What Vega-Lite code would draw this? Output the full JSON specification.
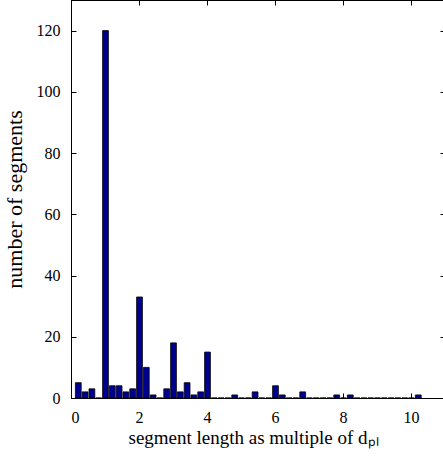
{
  "$schema": "https://vega.github.io/schema/vega-lite/v6.json",
  "width": 374,
  "height": 398,
  "autosize": "none",
  "padding": {"left": 71, "top": 0, "right": 0, "bottom": 61},
  "background": "white",
  "config": {
    "view": {"stroke": "black", "strokeWidth": 1},
    "axis": {
      "grid": false,
      "domainColor": "black",
      "tickColor": "black",
      "labelColor": "black",
      "titleColor": "black",
      "labelFont": "Liberation Serif",
      "titleFont": "Liberation Serif",
      "labelFontSize": 16,
      "titleFontSize": 19,
      "titleFontWeight": "normal",
      "tickSize": -5,
      "labelPadding": 16
    }
  },
  "data": {
    "values": [
      {"bin_start": 0.1, "bin_end": 0.3, "count": 5},
      {"bin_start": 0.3, "bin_end": 0.5, "count": 2},
      {"bin_start": 0.5, "bin_end": 0.7, "count": 3},
      {"bin_start": 0.7, "bin_end": 0.9, "count": 0},
      {"bin_start": 0.9, "bin_end": 1.1, "count": 120},
      {"bin_start": 1.1, "bin_end": 1.3, "count": 4},
      {"bin_start": 1.3, "bin_end": 1.5, "count": 4},
      {"bin_start": 1.5, "bin_end": 1.7, "count": 2},
      {"bin_start": 1.7, "bin_end": 1.9, "count": 3},
      {"bin_start": 1.9, "bin_end": 2.1, "count": 33},
      {"bin_start": 2.1, "bin_end": 2.3, "count": 10},
      {"bin_start": 2.3, "bin_end": 2.5, "count": 1},
      {"bin_start": 2.5, "bin_end": 2.7, "count": 0},
      {"bin_start": 2.7, "bin_end": 2.9, "count": 3},
      {"bin_start": 2.9, "bin_end": 3.1, "count": 18},
      {"bin_start": 3.1, "bin_end": 3.3, "count": 2},
      {"bin_start": 3.3, "bin_end": 3.5, "count": 5},
      {"bin_start": 3.5, "bin_end": 3.7, "count": 1},
      {"bin_start": 3.7, "bin_end": 3.9, "count": 2},
      {"bin_start": 3.9, "bin_end": 4.1, "count": 15},
      {"bin_start": 4.1, "bin_end": 4.3, "count": 0},
      {"bin_start": 4.3, "bin_end": 4.5, "count": 0},
      {"bin_start": 4.5, "bin_end": 4.7, "count": 0},
      {"bin_start": 4.7, "bin_end": 4.9, "count": 1},
      {"bin_start": 4.9, "bin_end": 5.1, "count": 0},
      {"bin_start": 5.1, "bin_end": 5.3, "count": 0},
      {"bin_start": 5.3, "bin_end": 5.5, "count": 2},
      {"bin_start": 5.5, "bin_end": 5.7, "count": 0},
      {"bin_start": 5.7, "bin_end": 5.9, "count": 0},
      {"bin_start": 5.9, "bin_end": 6.1, "count": 4},
      {"bin_start": 6.1, "bin_end": 6.3, "count": 1},
      {"bin_start": 6.3, "bin_end": 6.5, "count": 0},
      {"bin_start": 6.5, "bin_end": 6.7, "count": 0},
      {"bin_start": 6.7, "bin_end": 6.9, "count": 2},
      {"bin_start": 6.9, "bin_end": 7.1, "count": 0},
      {"bin_start": 7.1, "bin_end": 7.3, "count": 0},
      {"bin_start": 7.3, "bin_end": 7.5, "count": 0},
      {"bin_start": 7.5, "bin_end": 7.7, "count": 0},
      {"bin_start": 7.7, "bin_end": 7.9, "count": 1},
      {"bin_start": 7.9, "bin_end": 8.1, "count": 0},
      {"bin_start": 8.1, "bin_end": 8.3, "count": 1},
      {"bin_start": 8.3, "bin_end": 8.5, "count": 0},
      {"bin_start": 8.5, "bin_end": 8.7, "count": 0},
      {"bin_start": 8.7, "bin_end": 8.9, "count": 0},
      {"bin_start": 8.9, "bin_end": 9.1, "count": 0},
      {"bin_start": 9.1, "bin_end": 9.3, "count": 0},
      {"bin_start": 9.3, "bin_end": 9.5, "count": 0},
      {"bin_start": 9.5, "bin_end": 9.7, "count": 0},
      {"bin_start": 9.7, "bin_end": 9.9, "count": 0},
      {"bin_start": 9.9, "bin_end": 10.1, "count": 0},
      {"bin_start": 10.1, "bin_end": 10.3, "count": 1}
    ]
  },
  "layer": [
    {
      "mark": {"type": "bar", "fill": "#00008f", "stroke": "black", "strokeWidth": 0.8},
      "encoding": {
        "x": {
          "field": "bin_start", "type": "quantitative", "bin": "binned",
          "scale": {"domain": [0, 11], "nice": false, "zero": false},
          "axis": {"values": [0, 2, 4, 6, 8, 10], "format": "d", "labelFont": "Liberation Serif", "labelFontSize": 16, "title": "segment length as multiple of d\u209a\u2097", "titleFontSize": 19, "titlePadding": 3, "titleX": 182}
        },
        "x2": {"field": "bin_end"},
        "y": {
          "field": "count", "type": "quantitative",
          "scale": {"domain": [0, 130], "nice": false},
          "axis": {"values": [0, 20, 40, 60, 80, 100, 120], "labelFont": "Liberation Serif", "labelFontSize": 16, "title": "number of segments", "titleFontSize": 22, "titlePadding": 10}
        },
        "y2": {"datum": 0}
      }
    },
    {
      "mark": {"type": "bar", "opacity": 0},
      "encoding": {
        "x": {
          "field": "bin_start", "type": "quantitative", "bin": "binned",
          "axis": {"orient": "top", "values": [0, 2, 4, 6, 8, 10], "labels": false, "title": null}
        },
        "x2": {"field": "bin_end"},
        "y": {
          "field": "count", "type": "quantitative",
          "axis": {"orient": "right", "values": [0, 20, 40, 60, 80, 100, 120], "labels": false, "title": null}
        },
        "y2": {"datum": 0}
      }
    }
  ],
  "resolve": {"axis": {"x": "independent", "y": "independent"}}
}
